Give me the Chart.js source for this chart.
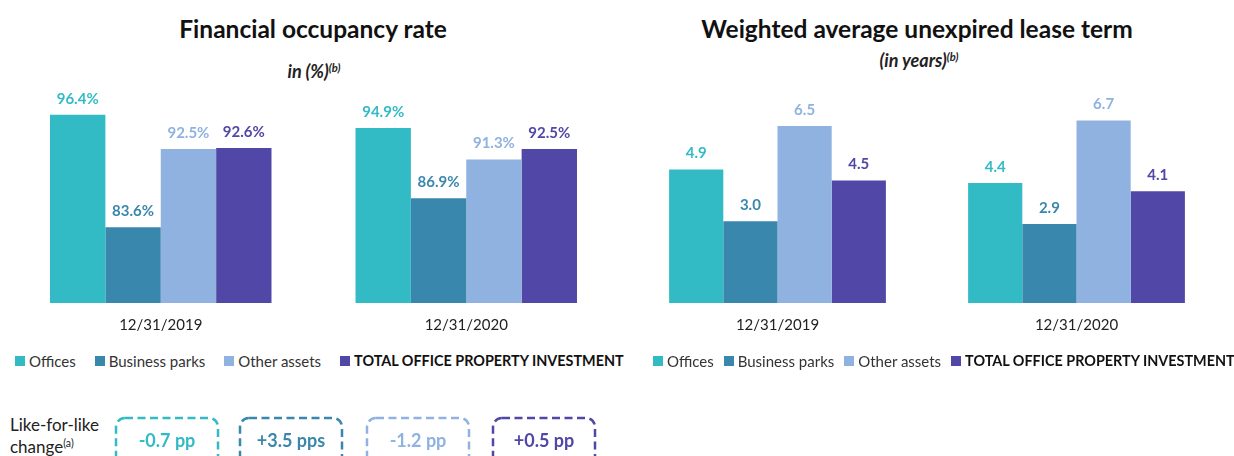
<!DOCTYPE html>
<html>
<head>
<meta charset="utf-8">
<script src="https://cdn.jsdelivr.net/npm/chart.js@4"></script>
<style>
  body { margin: 0; background: #fff; font-family: Lato, "Open Sans", sans-serif; color: #222; }
  #page { position: relative; width: 1234px; height: 456px; overflow: hidden; }
  .title { position: absolute; transform: translateX(-50%); white-space: nowrap; font-weight: bold; font-size: 24.5px; line-height: 28px; color: #111; }
  .subtitle { position: absolute; transform: translateX(-50%); white-space: nowrap; font-weight: bold; font-style: italic; font-size: 18px; line-height: 22px; color: #222; }
  .subtitle sup, .lfl sup { font-size: 62%; vertical-align: 0.55em; line-height: 0; }
  canvas { position: absolute; top: 0; }
  .legend { position: absolute; top: 352px; display: flex; white-space: nowrap; font-size: 15px; line-height: 18px; color: #333; }
  .legend span.item { display: flex; align-items: center; }
  .legend span.box { display: inline-block; width: 10px; height: 10px; margin-right: 4px; }
  .legend span.bold { font-weight: bold; font-size: 14.4px; color: #111; }
  .lfl { position: absolute; left: 10px; top: 414px; font-size: 17px; line-height: 22px; color: #222; }
  #boxes { position: absolute; left: 0; top: 0; }
</style>
</head>
<body>
<div id="page">
  <div class="title" style="left:313px; top:15px;">Financial occupancy rate</div>
  <div class="subtitle" style="left:314px; top:60px;">in (%)<sup>(b)</sup></div>
  <div class="title" style="left:917px; top:15px;">Weighted average unexpired lease term</div>
  <div class="subtitle" style="left:919px; top:49px;">(in years)<sup>(b)</sup></div>

  <canvas id="occChart" width="627" height="340" style="left:0px;"></canvas>
  <canvas id="walbChart" width="614" height="340" style="left:620px;"></canvas>

  <div class="legend" id="legendLeft" style="left:15px;"></div>
  <div class="legend" id="legendRight" style="left:653px;"></div>

  <div class="lfl">Like-for-like<br>change<sup>(a)</sup></div>
  <svg id="boxes" width="1234" height="456"></svg>
</div>

<script>
const categories = ['12/31/2019', '12/31/2020'];
const seriesNames = ['Offices', 'Business parks', 'Other assets', 'TOTAL OFFICE PROPERTY INVESTMENT'];
const seriesColors = ['#33BBC5', '#3A87AD', '#8FB2E1', '#5147A6'];

// financial occupancy rate, in %
const occOffices = [96.4, 94.9];
const occParks = [83.6, 86.9];
const occOther = [92.5, 91.3];
const occTotal = [92.6, 92.5];

// weighted average unexpired lease term, in years
const walbOffices = [4.9, 4.4];
const walbParks = [3.0, 2.9];
const walbOther = [6.5, 6.7];
const walbTotal = [4.5, 4.1];

// like-for-like change per series
const lflChanges = ['-0.7 pp', '+3.5 pps', '-1.2 pp', '+0.5 pp'];

const FONT = 'Lato, "Open Sans", sans-serif';

// draws the value above each bar, in the series colour
const valueLabels = {
  id: 'valueLabels',
  afterDatasetsDraw(chart, args, opts) {
    const ctx = chart.ctx;
    chart.data.datasets.forEach((ds, i) => {
      chart.getDatasetMeta(i).data.forEach((bar, j) => {
        ctx.save();
        ctx.font = 'bold 15px ' + FONT;
        ctx.fillStyle = ds.backgroundColor;
        ctx.textAlign = 'center';
        ctx.textBaseline = 'middle';
        ctx.fillText(ds.data[j].toFixed(1) + opts.suffix, bar.x, bar.y - 16);
        ctx.restore();
      });
    });
  }
};

function makeChart(id, values, yMin, yMax, padTop, suffix) {
  return new Chart(document.getElementById(id), {
    type: 'bar',
    data: {
      labels: categories,
      datasets: values.map((v, i) => ({
        label: seriesNames[i],
        data: v,
        backgroundColor: seriesColors[i],
        borderWidth: 0
      }))
    },
    options: {
      responsive: false,
      animation: false,
      layout: { padding: { top: padTop, left: 8, right: 8, bottom: 0 } },
      plugins: {
        legend: { display: false },
        tooltip: { enabled: false },
        valueLabels: { suffix: suffix }
      },
      datasets: { bar: { categoryPercentage: 0.725, barPercentage: 1.0 } },
      scales: {
        x: {
          grid: { display: false, drawTicks: false },
          border: { display: false },
          ticks: { padding: 13, color: '#222', font: { size: 15, family: FONT } },
          afterFit(axis) { axis.height = 37; }
        },
        y: { display: false, min: yMin, max: yMax }
      }
    },
    plugins: [valueLabels]
  });
}

makeChart('occChart', [occOffices, occParks, occOther, occTotal], 75, 100, 83, '%');
makeChart('walbChart', [walbOffices, walbParks, walbOther, walbTotal], 0, 8, 85, '');

// html legends, the last item is bold
function buildLegend(id, gap) {
  const el = document.getElementById(id);
  seriesNames.forEach((name, i) => {
    const item = document.createElement('span');
    item.className = 'item';
    item.style.marginRight = gap + 'px';
    item.innerHTML = '<span class="box" style="background:' + seriesColors[i] + '"></span>' +
      '<span class="' + (i === seriesNames.length - 1 ? 'bold' : '') + '">' + name + '</span>';
    el.appendChild(item);
  });
}
buildLegend('legendLeft', 19);
buildLegend('legendRight', 10);

// dashed like-for-like boxes
const boxLefts = [116, 240, 367, 493];
const svg = document.getElementById('boxes');
let svgHtml = '';
lflChanges.forEach((txt, i) => {
  const x = boxLefts[i];
  svgHtml += '<rect x="' + x + '" y="418" width="102" height="60" rx="9" fill="none" stroke="' + seriesColors[i] +
    '" stroke-width="2.5" stroke-dasharray="8 4.5"/>';
  svgHtml += '<text x="' + (x + 51) + '" y="440" text-anchor="middle" dominant-baseline="central" ' +
    'font-family=\'' + FONT + '\' font-weight="bold" font-size="18" fill="' + seriesColors[i] + '">' + txt + '</text>';
});
svg.innerHTML = svgHtml;
</script>
</body>
</html>
